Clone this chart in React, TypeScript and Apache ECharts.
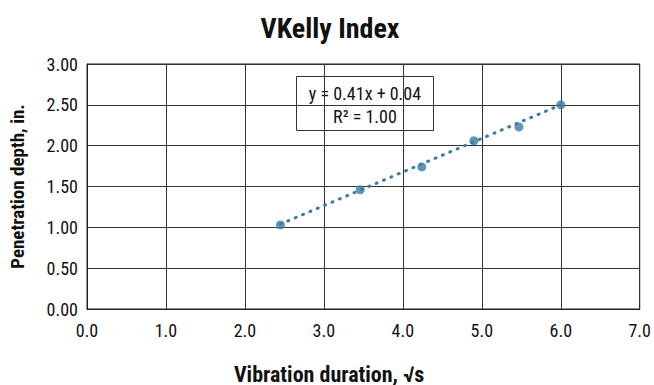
import React, { useEffect, useRef } from "react";
import * as echarts from "echarts";

const xValues = [2.45, 3.46, 4.24, 4.9, 5.47, 6.0];
const yValues = [1.03, 1.46, 1.74, 2.06, 2.23, 2.5];
const trendX = [2.45, 6.0];
const trendY = [1.04, 2.5];
const equationLines = ["y = 0.41x + 0.04", "R² = 1.00"];

const FONT = "'Roboto Condensed', 'Liberation Sans Narrow', 'Arial Narrow', 'DejaVu Sans Condensed', sans-serif";

export default function App() {
  const ref = useRef<HTMLDivElement>(null);
  useEffect(() => {
    if (!ref.current) return;
    const chart = echarts.init(ref.current, null, { renderer: "svg" });
    chart.setOption({
      animation: false,
      backgroundColor: "#ffffff",
      textStyle: { fontFamily: FONT },
      grid: { left: 86, right: 11, top: 64, bottom: 76, containLabel: false, show: true, borderColor: "#222", borderWidth: 1 },
      xAxis: {
        type: "value",
        min: 0,
        max: 7,
        interval: 1,
        axisLine: { show: true, lineStyle: { color: "#222" } },
        axisTick: { show: false },
        axisLabel: { formatter: (v: number) => v.toFixed(1), fontFamily: FONT, fontSize: 18, color: "#111", margin: 12 },
        splitLine: { show: true, lineStyle: { color: "#333", width: 1 } },
      },
      yAxis: {
        type: "value",
        min: 0,
        max: 3,
        interval: 0.5,
        name: "Penetration depth, in.",
        nameLocation: "middle",
        nameGap: 60,
        nameTextStyle: { fontFamily: FONT, fontSize: 19, fontWeight: "bold", color: "#111" },
        axisLine: { show: true, lineStyle: { color: "#222" } },
        axisTick: { show: false },
        axisLabel: { formatter: (v: number) => v.toFixed(2), fontFamily: FONT, fontSize: 18, color: "#111", margin: 9 },
        splitLine: { show: true, lineStyle: { color: "#333", width: 1 } },
      },
      series: [
        {
          type: "line",
          data: trendX.map((x, i) => [x, trendY[i]]),
          showSymbol: false,
          symbol: "none",
          lineStyle: { color: "#3a7ca5", width: 3, type: [1, 7], cap: "round" },
          silent: true,
          z: 2,
        },
        {
          type: "scatter",
          data: xValues.map((x, i) => [x, yValues[i]]),
          symbol: "circle",
          symbolSize: 9,
          itemStyle: { color: "#3a7ca5" },
          z: 3,
        },
      ],
      graphic: [
        {
          type: "text",
          x: 330,
          y: 28,
          style: {
            text: "VKelly Index",
            fontFamily: FONT,
            fontSize: 28,
            fontWeight: "bold",
            fill: "#111",
            align: "center",
            verticalAlign: "middle",
          },
        },
        {
          type: "text",
          x: 329,
          y: 374,
          style: {
            text: "Vibration duration, √s",
            fontFamily: FONT,
            fontSize: 22,
            fontWeight: "bold",
            fill: "#111",
            align: "center",
            verticalAlign: "middle",
          },
        },
        {
          type: "group",
          left: 296,
          top: 76,
          children: [
            {
              type: "rect",
              shape: { x: 0, y: 0, width: 137, height: 54 },
              style: { fill: "#fff", stroke: "#333", lineWidth: 1 },
            },
            {
              type: "text",
              x: 68.5,
              y: 17,
              style: { text: equationLines[0], fontFamily: FONT, fontSize: 18, fill: "#111", align: "center", verticalAlign: "middle" },
            },
            {
              type: "text",
              x: 68.5,
              y: 40,
              style: { text: equationLines[1], fontFamily: FONT, fontSize: 18, fill: "#111", align: "center", verticalAlign: "middle" },
            },
          ],
        },
      ],
    });
    return () => chart.dispose();
  }, []);
  return <div ref={ref} style={{ width: 654, height: 385, position: "absolute", left: 0, top: 0 }} />;
}
